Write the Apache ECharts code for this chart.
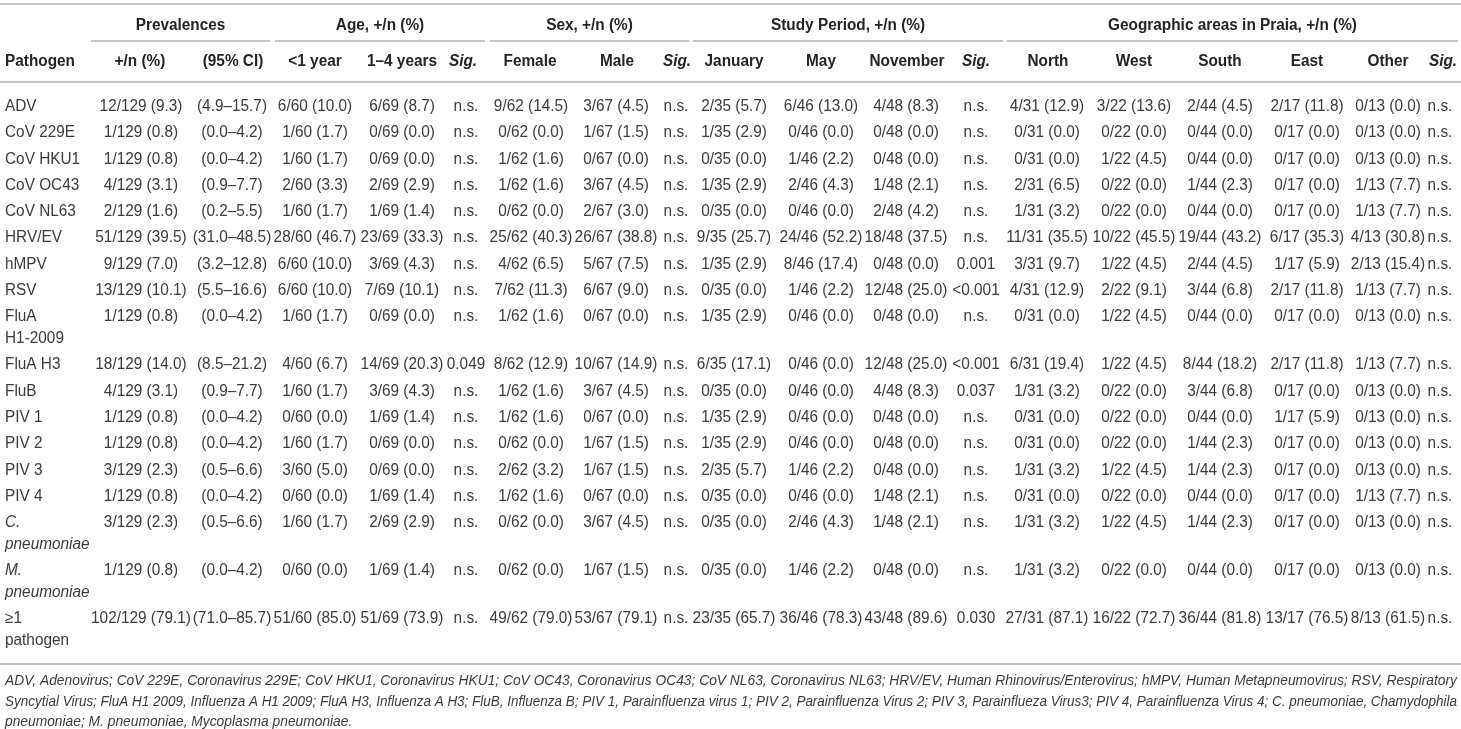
<!DOCTYPE html>
<html>
<head>
<meta charset="utf-8">
<script src="https://cdn.jsdelivr.net/npm/echarts@6/dist/echarts.min.js"></script>
<style>
html,body{margin:0;padding:0;background:#fff;}
#chart{width:1461px;height:729px;}
</style>
</head>
<body>
<div id="chart"></div>
<script>
// ---------------- DATA ----------------
const pathogens = ['ADV','CoV 229E','CoV HKU1','CoV OC43','CoV NL63','HRV/EV','hMPV','RSV','FluA\nH1-2009','FluA H3','FluB','PIV 1','PIV 2','PIV 3','PIV 4','C.\npneumoniae','M.\npneumoniae','≥1\npathogen'];
const italicPathogens = ['C.\npneumoniae','M.\npneumoniae'];

const groupHeaders = ['Prevalences','Age, +/n (%)','Sex, +/n (%)','Study Period, +/n (%)','Geographic areas in Praia, +/n (%)'];
const subHeaders = ['Pathogen','+/n (%)','(95% CI)','<1 year','1–4 years','Sig.','Female','Male','Sig.','January','May','November','Sig.','North','West','South','East','Other','Sig.'];

const prevalence = ['12/129 (9.3)','1/129 (0.8)','1/129 (0.8)','4/129 (3.1)','2/129 (1.6)','51/129 (39.5)','9/129 (7.0)','13/129 (10.1)','1/129 (0.8)','18/129 (14.0)','4/129 (3.1)','1/129 (0.8)','1/129 (0.8)','3/129 (2.3)','1/129 (0.8)','3/129 (2.3)','1/129 (0.8)','102/129 (79.1)'];
const ci95 = ['(4.9–15.7)','(0.0–4.2)','(0.0–4.2)','(0.9–7.7)','(0.2–5.5)','(31.0–48.5)','(3.2–12.8)','(5.5–16.6)','(0.0–4.2)','(8.5–21.2)','(0.9–7.7)','(0.0–4.2)','(0.0–4.2)','(0.5–6.6)','(0.0–4.2)','(0.5–6.6)','(0.0–4.2)','(71.0–85.7)'];
const ageLt1 = ['6/60 (10.0)','1/60 (1.7)','1/60 (1.7)','2/60 (3.3)','1/60 (1.7)','28/60 (46.7)','6/60 (10.0)','6/60 (10.0)','1/60 (1.7)','4/60 (6.7)','1/60 (1.7)','0/60 (0.0)','1/60 (1.7)','3/60 (5.0)','0/60 (0.0)','1/60 (1.7)','0/60 (0.0)','51/60 (85.0)'];
const age1to4 = ['6/69 (8.7)','0/69 (0.0)','0/69 (0.0)','2/69 (2.9)','1/69 (1.4)','23/69 (33.3)','3/69 (4.3)','7/69 (10.1)','0/69 (0.0)','14/69 (20.3)','3/69 (4.3)','1/69 (1.4)','0/69 (0.0)','0/69 (0.0)','1/69 (1.4)','2/69 (2.9)','1/69 (1.4)','51/69 (73.9)'];
const ageSig = ['n.s.','n.s.','n.s.','n.s.','n.s.','n.s.','n.s.','n.s.','n.s.','0.049','n.s.','n.s.','n.s.','n.s.','n.s.','n.s.','n.s.','n.s.'];
const female = ['9/62 (14.5)','0/62 (0.0)','1/62 (1.6)','1/62 (1.6)','0/62 (0.0)','25/62 (40.3)','4/62 (6.5)','7/62 (11.3)','1/62 (1.6)','8/62 (12.9)','1/62 (1.6)','1/62 (1.6)','0/62 (0.0)','2/62 (3.2)','1/62 (1.6)','0/62 (0.0)','0/62 (0.0)','49/62 (79.0)'];
const male = ['3/67 (4.5)','1/67 (1.5)','0/67 (0.0)','3/67 (4.5)','2/67 (3.0)','26/67 (38.8)','5/67 (7.5)','6/67 (9.0)','0/67 (0.0)','10/67 (14.9)','3/67 (4.5)','0/67 (0.0)','1/67 (1.5)','1/67 (1.5)','0/67 (0.0)','3/67 (4.5)','1/67 (1.5)','53/67 (79.1)'];
const sexSig = ['n.s.','n.s.','n.s.','n.s.','n.s.','n.s.','n.s.','n.s.','n.s.','n.s.','n.s.','n.s.','n.s.','n.s.','n.s.','n.s.','n.s.','n.s.'];
const january = ['2/35 (5.7)','1/35 (2.9)','0/35 (0.0)','1/35 (2.9)','0/35 (0.0)','9/35 (25.7)','1/35 (2.9)','0/35 (0.0)','1/35 (2.9)','6/35 (17.1)','0/35 (0.0)','1/35 (2.9)','1/35 (2.9)','2/35 (5.7)','0/35 (0.0)','0/35 (0.0)','0/35 (0.0)','23/35 (65.7)'];
const may = ['6/46 (13.0)','0/46 (0.0)','1/46 (2.2)','2/46 (4.3)','0/46 (0.0)','24/46 (52.2)','8/46 (17.4)','1/46 (2.2)','0/46 (0.0)','0/46 (0.0)','0/46 (0.0)','0/46 (0.0)','0/46 (0.0)','1/46 (2.2)','0/46 (0.0)','2/46 (4.3)','1/46 (2.2)','36/46 (78.3)'];
const november = ['4/48 (8.3)','0/48 (0.0)','0/48 (0.0)','1/48 (2.1)','2/48 (4.2)','18/48 (37.5)','0/48 (0.0)','12/48 (25.0)','0/48 (0.0)','12/48 (25.0)','4/48 (8.3)','0/48 (0.0)','0/48 (0.0)','0/48 (0.0)','1/48 (2.1)','1/48 (2.1)','0/48 (0.0)','43/48 (89.6)'];
const periodSig = ['n.s.','n.s.','n.s.','n.s.','n.s.','n.s.','0.001','<0.001','n.s.','<0.001','0.037','n.s.','n.s.','n.s.','n.s.','n.s.','n.s.','0.030'];
const north = ['4/31 (12.9)','0/31 (0.0)','0/31 (0.0)','2/31 (6.5)','1/31 (3.2)','11/31 (35.5)','3/31 (9.7)','4/31 (12.9)','0/31 (0.0)','6/31 (19.4)','1/31 (3.2)','0/31 (0.0)','0/31 (0.0)','1/31 (3.2)','0/31 (0.0)','1/31 (3.2)','1/31 (3.2)','27/31 (87.1)'];
const west = ['3/22 (13.6)','0/22 (0.0)','1/22 (4.5)','0/22 (0.0)','0/22 (0.0)','10/22 (45.5)','1/22 (4.5)','2/22 (9.1)','1/22 (4.5)','1/22 (4.5)','0/22 (0.0)','0/22 (0.0)','0/22 (0.0)','1/22 (4.5)','0/22 (0.0)','1/22 (4.5)','0/22 (0.0)','16/22 (72.7)'];
const south = ['2/44 (4.5)','0/44 (0.0)','0/44 (0.0)','1/44 (2.3)','0/44 (0.0)','19/44 (43.2)','2/44 (4.5)','3/44 (6.8)','0/44 (0.0)','8/44 (18.2)','3/44 (6.8)','0/44 (0.0)','1/44 (2.3)','1/44 (2.3)','0/44 (0.0)','1/44 (2.3)','0/44 (0.0)','36/44 (81.8)'];
const east = ['2/17 (11.8)','0/17 (0.0)','0/17 (0.0)','0/17 (0.0)','0/17 (0.0)','6/17 (35.3)','1/17 (5.9)','2/17 (11.8)','0/17 (0.0)','2/17 (11.8)','0/17 (0.0)','1/17 (5.9)','0/17 (0.0)','0/17 (0.0)','0/17 (0.0)','0/17 (0.0)','0/17 (0.0)','13/17 (76.5)'];
const other = ['0/13 (0.0)','0/13 (0.0)','0/13 (0.0)','1/13 (7.7)','1/13 (7.7)','4/13 (30.8)','2/13 (15.4)','1/13 (7.7)','0/13 (0.0)','1/13 (7.7)','0/13 (0.0)','0/13 (0.0)','0/13 (0.0)','0/13 (0.0)','1/13 (7.7)','0/13 (0.0)','0/13 (0.0)','8/13 (61.5)'];
const geoSig = ['n.s.','n.s.','n.s.','n.s.','n.s.','n.s.','n.s.','n.s.','n.s.','n.s.','n.s.','n.s.','n.s.','n.s.','n.s.','n.s.','n.s.','n.s.'];

const footnoteLines = [
  'ADV, Adenovirus; CoV 229E, Coronavirus 229E; CoV HKU1, Coronavirus HKU1; CoV OC43, Coronavirus OC43; CoV NL63, Coronavirus NL63; HRV/EV, Human Rhinovirus/Enterovirus; hMPV, Human Metapneumovirus; RSV, Respiratory',
  'Syncytial Virus; FluA H1 2009, Influenza A H1 2009; FluA H3, Influenza A H3; FluB, Influenza B; PIV 1, Parainfluenza virus 1; PIV 2, Parainfluenza Virus 2; PIV 3, Parainflueza Virus3; PIV 4, Parainfluenza Virus 4; C. pneumoniae, Chamydophila',
  'pneumoniae; M. pneumoniae, Mycoplasma pneumoniae.'
];

const dataColumns = [prevalence, ci95, ageLt1, age1to4, ageSig, female, male, sexSig, january, may, november, periodSig, north, west, south, east, other, geoSig];

// ---------------- LAYOUT ----------------
const W = 1461, H = 729;
const COL_X = [5,141,232,315,402,466,531,616,676,734,821,906,976,1047,1134,1220,1307,1388,1440];
const HEAD2_X = [5,140,233,315,402,463,530,617,677,734,821,907,976,1048,1134,1220,1307,1388,1443];
const GROUP_SPANS = [[91,270],[275,485],[490,689],[693,1003],[1007,1458]];
const TEXT_DY = 1.5;
const HEAD1_Y = 24 + TEXT_DY, HEAD2_Y = 60 + TEXT_DY;
const ROW_Y0 = 105 + TEXT_DY, ROW_PITCH = 26.3, LINE_H = 21.7;
const RULES = [[0,W,4,2],[0,W,82,2],[0,W,664,2]];
const FOOT_X = 5, FOOT_Y0 = 681, FOOT_LH = 20.5, FOOT_W = 1452, FOOT_SIZE = 15;
const FONT = "'Liberation Sans', Arial, Helvetica, sans-serif";
const BODY_SIZE = 16, BODY_SCALE = 0.96;
const BODY_COLOR = '#3c3c3c', HEAD_COLOR = '#242424', RULE_COLOR = '#c4c4c4';

// row y positions (first line of each row)
const rowY = [];
{
  let y = ROW_Y0;
  pathogens.forEach(p => {
    rowY.push(y);
    y += ROW_PITCH + (p.split('\n').length - 1) * LINE_H;
  });
}

// footnote horizontal compression: first two lines justified to full width
const measureCtx = document.createElement('canvas').getContext('2d');
measureCtx.font = 'italic ' + FOOT_SIZE + 'px ' + FONT;
const footScales = footnoteLines.map(t => FOOT_W / measureCtx.measureText(t).width);
footScales[2] = footScales[0];

// ---------------- BUILD ITEMS ----------------
const rules = RULES.map(r => ({value: [r[0], r[2]], x2: r[1], lw: r[3]}));
GROUP_SPANS.forEach(s => rules.push({value: [s[0], 41], x2: s[1], lw: 2}));

const texts = [];
const bodyFont = BODY_SIZE + 'px ' + FONT;
groupHeaders.forEach((g, i) => {
  const s = GROUP_SPANS[i];
  texts.push({value: [(s[0] + s[1]) / 2, HEAD1_Y], text: g, font: 'bold ' + bodyFont, fill: HEAD_COLOR, align: 'center', sx: BODY_SCALE});
});
subHeaders.forEach((h, i) => {
  const it = h === 'Sig.';
  texts.push({value: [HEAD2_X[i], HEAD2_Y], text: h, font: (it ? 'italic ' : '') + 'bold ' + bodyFont, fill: HEAD_COLOR, align: i === 0 ? 'left' : 'center', sx: BODY_SCALE});
});
pathogens.forEach((p, r) => {
  const it = italicPathogens.includes(p);
  p.split('\n').forEach((line, k) => {
    texts.push({value: [COL_X[0], rowY[r] + k * LINE_H], text: line, font: (it ? 'italic ' : '') + bodyFont, fill: BODY_COLOR, align: 'left', sx: BODY_SCALE});
  });
  dataColumns.forEach((col, c) => {
    texts.push({value: [COL_X[c + 1], rowY[r]], text: col[r], font: bodyFont, fill: BODY_COLOR, align: 'center', sx: BODY_SCALE});
  });
});
footnoteLines.forEach((t, i) => {
  texts.push({value: [FOOT_X, FOOT_Y0 + i * FOOT_LH], text: t, font: 'italic ' + FOOT_SIZE + 'px ' + FONT, fill: BODY_COLOR, align: 'left', sx: footScales[i]});
});

// ---------------- CHART ----------------
const chart = echarts.init(document.getElementById('chart'), null, {renderer: 'canvas'});
chart.setOption({
  animation: false,
  backgroundColor: '#fff',
  grid: {left: 0, right: 0, top: 0, bottom: 0},
  xAxis: {type: 'value', min: 0, max: W, show: false},
  yAxis: {type: 'value', min: 0, max: H, inverse: true, show: false},
  tooltip: {show: false},
  series: [
    {
      type: 'custom',
      name: 'rules',
      silent: true,
      data: rules,
      renderItem: (params, api) => {
        const d = rules[params.dataIndex];
        const p1 = api.coord([api.value(0), api.value(1)]);
        const p2 = api.coord([d.x2, api.value(1)]);
        return {type: 'line', shape: {x1: p1[0], y1: p1[1], x2: p2[0], y2: p2[1]}, style: {stroke: RULE_COLOR, lineWidth: d.lw}};
      }
    },
    {
      type: 'custom',
      name: 'cells',
      silent: true,
      data: texts,
      renderItem: (params, api) => {
        const d = texts[params.dataIndex];
        const p = api.coord([api.value(0), api.value(1)]);
        return {type: 'text', x: p[0], y: p[1], scaleX: d.sx, scaleY: 1,
          style: {text: d.text, x: 0, y: 0, font: d.font, fill: d.fill, align: d.align, verticalAlign: 'middle'}};
      }
    }
  ]
});
</script>
</body>
</html>
